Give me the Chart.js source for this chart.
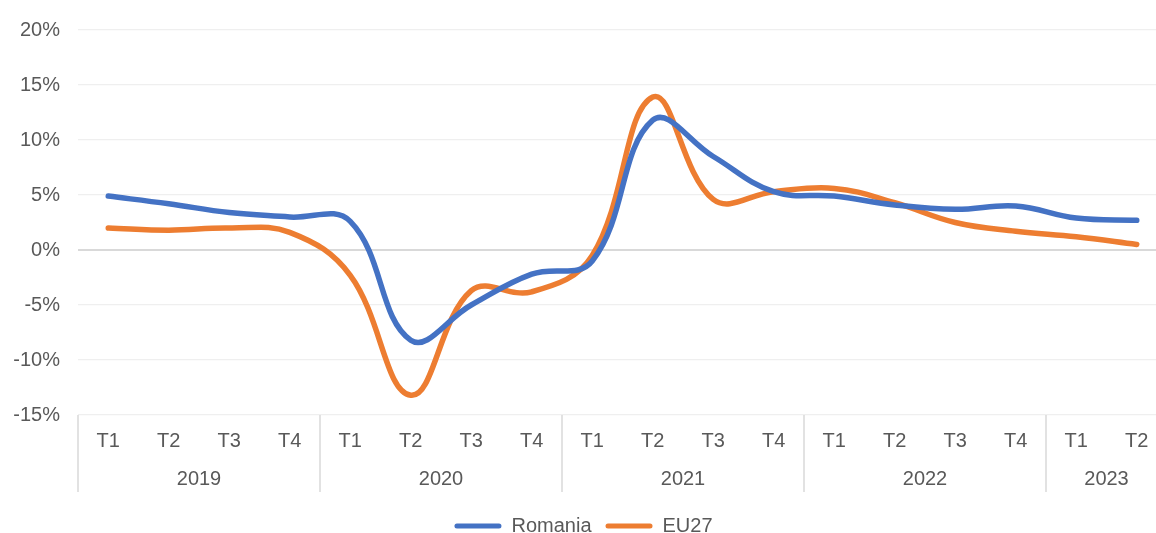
<!DOCTYPE html>
<html>
<head>
<meta charset="utf-8">
<script src="https://cdn.jsdelivr.net/npm/chart.js@4.4.1/dist/chart.umd.min.js"></script>
<style>
  html, body { margin: 0; padding: 0; background: #fff; overflow: hidden; }
  #wrap { position: relative; width: 1198px; height: 546px; }
</style>
</head>
<body>
<div id="wrap"><canvas id="chart"></canvas></div>
<script>
const quarters = ['T1','T2','T3','T4','T1','T2','T3','T4','T1','T2','T3','T4','T1','T2','T3','T4','T1','T2'];
const years = ['2019','2020','2021','2022','2023'];
const quartersPerYear = [4, 4, 4, 4, 2];

const romania = [4.9, 4.2, 3.4, 3.0, 2.6, -8.2, -5.0, -2.2, -1.0, 11.8, 8.5, 5.3, 4.9, 4.1, 3.7, 4.0, 2.9, 2.7];
const eu27    = [2.0, 1.8, 2.0, 1.6, -2.3, -13.2, -3.7, -3.8, -0.5, 13.9, 4.6, 5.3, 5.6, 4.3, 2.5, 1.7, 1.2, 0.5];

const TEXT = '#595959';
Chart.defaults.font.family = '"Liberation Sans", Arial, sans-serif';
Chart.defaults.font.size = 20;
Chart.defaults.color = TEXT;

// Second row of the category axis: years + group separators
const yearAxis = {
    id: 'yearAxis',
    afterDraw(chart) {
        const x = chart.scales.x;
        const ctx = chart.ctx;
        const bottom = chart.chartArea.bottom;
        const half = (x.getPixelForValue(1) - x.getPixelForValue(0)) / 2;
        ctx.save();
        ctx.strokeStyle = '#d9d9d9';
        ctx.lineWidth = 1.5;
        ctx.fillStyle = TEXT;
        ctx.font = '20px "Liberation Sans", Arial, sans-serif';
        ctx.textAlign = 'center';
        ctx.textBaseline = 'middle';
        let idx = 0;
        years.forEach((yr, i) => {
            const n = quartersPerYear[i];
            const left = x.getPixelForValue(idx) - half;
            const right = x.getPixelForValue(idx + n - 1) + half;
            ctx.beginPath();
            ctx.moveTo(left, bottom);
            ctx.lineTo(left, bottom + 77);
            ctx.stroke();
            if (i === years.length - 1) {
                ctx.beginPath();
                ctx.moveTo(right, bottom);
                ctx.lineTo(right, bottom + 77);
                ctx.stroke();
            }
            ctx.fillText(yr, (left + right) / 2, bottom + 64);
            idx += n;
        });
        ctx.restore();
    }
};

new Chart(document.getElementById('chart'), {
    type: 'line',
    data: {
        labels: quarters,
        datasets: [
            {
                label: 'Romania',
                data: romania,
                borderColor: '#4472C4',
                backgroundColor: '#4472C4',
                borderWidth: 5.5,
                pointRadius: 0,
                tension: 0.4,
                borderCapStyle: 'round',
                borderJoinStyle: 'round',
            },
            {
                label: 'EU27',
                data: eu27,
                borderColor: '#ED7D31',
                backgroundColor: '#ED7D31',
                borderWidth: 5.5,
                pointRadius: 0,
                tension: 0.4,
                borderCapStyle: 'round',
                borderJoinStyle: 'round',
            },
        ],
    },
    options: {
        responsive: true,
        maintainAspectRatio: false,
        animation: false,
        layout: { autoPadding: false, padding: { top: 26, right: 31, left: 0, bottom: 0 } },
        scales: {
            x: {
                offset: true,
                grid: { display: false },
                border: { display: false },
                ticks: { padding: 6, maxRotation: 0, autoSkip: false, color: TEXT },
                afterFit: s => { s.height = 87; },
            },
            y: {
                min: -15,
                max: 20,
                ticks: {
                    stepSize: 5,
                    padding: 18,
                    color: TEXT,
                    callback: v => v + '%',
                },
                grid: {
                    drawTicks: false,
                    color: c => c.tick && c.tick.value === 0 ? '#d9d9d9' : '#efefef',
                    lineWidth: c => c.tick && c.tick.value === 0 ? 2 : 1.2,
                },
                border: { display: false },
                afterFit: s => { s.width = 78; },
            },
        },
        plugins: {
            legend: {
                position: 'bottom',
                labels: {
                    boxWidth: 47,
                    boxHeight: 5,
                    padding: 14,
                    color: TEXT,
                    useBorderRadius: true,
                    borderRadius: 2.5,
                    generateLabels: chart =>
                        Chart.defaults.plugins.legend.labels.generateLabels(chart)
                            .map(l => ({ ...l, lineWidth: 0 })),
                },
            },
            tooltip: { enabled: false },
        },
    },
    plugins: [yearAxis],
});
</script>
</body>
</html>
